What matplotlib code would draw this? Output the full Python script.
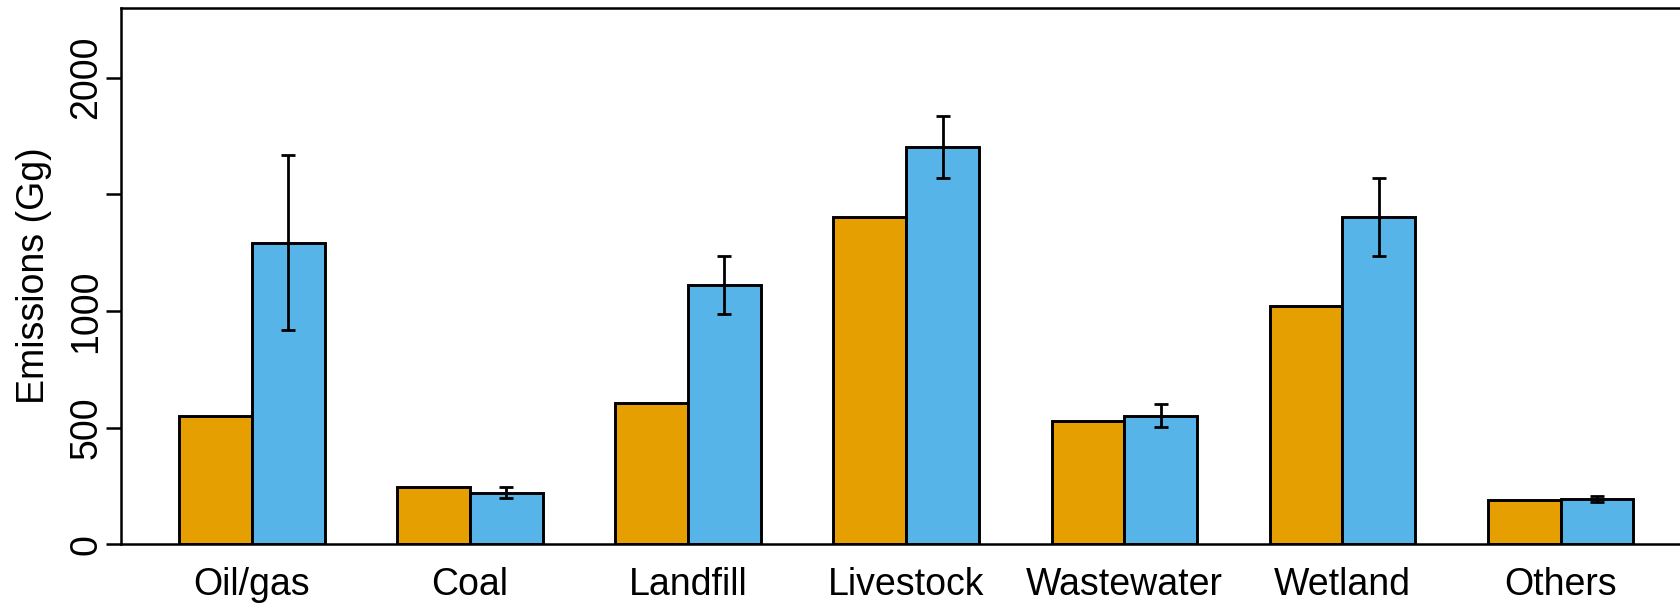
import numpy as np
import matplotlib.pyplot as plt

plt.rcParams["font.family"] = ["Liberation Sans", "DejaVu Sans"]

# ── data ─────────────────────────────────────────────────────────────────────
sectors = ["Oil/gas", "Coal", "Landfill", "Livestock", "Wastewater", "Wetland", "Others"]
inventory = [551, 245, 607, 1404, 527, 1021, 190]
inversion = [1293, 221, 1111, 1702, 551, 1402, 195]
inversion_err = [376, 23, 124, 133, 49, 168, 13]

y_ticks = [0, 500, 1000, 1500, 2000]
y_ticklabels = ["0", "500", "1000", "", "2000"]

ORANGE = "#E69F00"
BLUE = "#56B4E9"

# ── layout: R-style beside barplot (width 1, space c(0, 1)) ──────────────────
fig = plt.figure(figsize=(16.8, 6.11), dpi=100)
ax = fig.add_axes([0.0720, 0.1092, 0.9348, 0.8785])

x_left = 1 + 3 * np.arange(len(sectors))

ax.bar(x_left, inventory, width=1, align="edge", color=ORANGE,
       edgecolor="black", linewidth=2.1)
ax.bar(x_left + 1, inversion, width=1, align="edge", color=BLUE,
       edgecolor="black", linewidth=2.1)
ax.errorbar(x_left + 1.5, inversion, yerr=inversion_err, fmt="none",
            ecolor="black", elinewidth=2, capsize=4.7, capthick=2)

ax.set_xlim(0.2, 21.8)
ax.set_ylim(0, 2300)

ax.set_xticks(x_left + 1)
ax.set_xticklabels(sectors, fontsize=27)
ax.tick_params(axis="x", length=0, pad=16)

ax.set_yticks(y_ticks)
ax.set_yticklabels(y_ticklabels, fontsize=27, rotation=90, va="center")
ax.tick_params(axis="y", length=11, width=1.8, pad=1)

ax.set_ylabel("Emissions (Gg)", fontsize=27, labelpad=12)

for side in ax.spines.values():
    side.set_linewidth(1.8)

fig.savefig("out.png", dpi=100)
